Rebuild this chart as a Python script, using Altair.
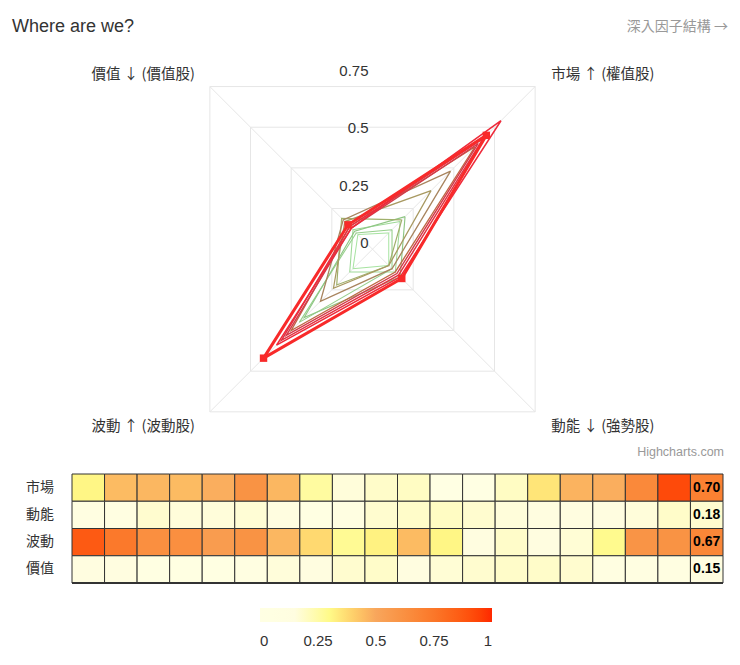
import numpy as np
import pandas as pd
import altair as alt

# factors, clockwise from the top-right spoke
factors = ["市場", "動能", "波動", "價值"]
axis_titles = ["市場 ↑ (權值股)", "動能 ↓ (強勢股)", "波動 ↑ (波動股)", "價值 ↓ (價值股)"]
axis_angles = [45, 135, 225, 315]

# heatmap: one column per period, last column is the current reading
periods = list(range(1, 21))
heat_market = [0.31, 0.45, 0.46, 0.45, 0.48, 0.61, 0.46, 0.26, 0.16, 0.19,
               0.20, 0.00, 0.00, 0.20, 0.35, 0.47, 0.48, 0.66, 0.92, 0.70]
heat_momentum = [0.12, 0.11, 0.18, 0.16, 0.16, 0.17, 0.13, 0.04, 0.10, 0.18,
                 0.19, 0.20, 0.18, 0.16, 0.14, 0.15, 0.13, 0.16, 0.19, 0.18]
heat_volatility = [0.87, 0.74, 0.63, 0.63, 0.56, 0.61, 0.46, 0.38, 0.28, 0.32,
                   0.45, 0.31, 0.15, 0.19, 0.15, 0.17, 0.29, 0.60, 0.61, 0.67]
heat_value = [0.14, 0.13, 0.06, 0.07, 0.06, 0.11, 0.16, 0.14, 0.18, 0.19,
              0.15, 0.17, 0.18, 0.19, 0.19, 0.18, 0.12, 0.12, 0.10, 0.15]

# radar: oldest first, the last one is the current reading
radar_market = [0.10, 0.17, 0.12, 0.20, 0.18, 0.36, 0.48, 0.63, 0.65, 0.68, 0.79, 0.70]
radar_momentum = [0.10, 0.14, 0.12, 0.17, 0.10, 0.10, 0.12, 0.14, 0.15, 0.16, 0.17, 0.18]
radar_volatility = [0.12, 0.14, 0.45, 0.42, 0.22, 0.24, 0.32, 0.50, 0.53, 0.56, 0.59, 0.67]
radar_value = [0.09, 0.12, 0.10, 0.11, 0.19, 0.17, 0.18, 0.14, 0.13, 0.14, 0.13, 0.15]

grid_levels = [0.25, 0.5, 0.75, 1.0]
tick_labels = ["0", "0.25", "0.5", "0.75"]
legend_ticks = [0, 0.25, 0.5, 0.75, 1]

FONT = "Liberation Sans, Noto Sans CJK TC, sans-serif"
CJK = "Noto Sans CJK TC, Liberation Sans, sans-serif"
rad = np.deg2rad(axis_angles)

# ---- radar data
radar_vals = [radar_market, radar_momentum, radar_volatility, radar_value]
n_series = len(radar_market)
rows = []
for s in range(n_series):
    for k in range(5):
        j = k % 4
        v = radar_vals[j][s]
        rows.append({"series": s, "order": k, "value": v,
                     "x": v * np.sin(rad[j]), "y": v * np.cos(rad[j])})
radar_df = pd.DataFrame(rows)

grid_rows = []
for lv in grid_levels:
    for k in range(5):
        j = k % 4
        grid_rows.append({"level": lv, "order": k,
                          "x": lv * np.sin(rad[j]), "y": lv * np.cos(rad[j])})
grid_df = pd.DataFrame(grid_rows)

spoke_df = pd.DataFrame({"x0": 0.0, "y0": 0.0, "x": np.sin(rad), "y": np.cos(rad),
                         "title": axis_titles})
ticks_df = pd.DataFrame({"v": [0, 0.25, 0.5, 0.75], "label": tick_labels, "x": 0.0})

xs = alt.Scale(domain=[-1, 1], range=[134.5, 594.5], nice=False, zero=False)
ys = alt.Scale(domain=[-1, 1], range=[471.2, 11.2], nice=False, zero=False)
X = alt.X("x:Q", scale=xs, axis=None)
Y = alt.Y("y:Q", scale=ys, axis=None)

grid = alt.Chart(grid_df).mark_line(color="#e6e6e6", strokeWidth=1).encode(
    x=X, y=Y, detail="level:N", order="order:Q"
)
spokes = alt.Chart(spoke_df).mark_rule(color="#e6e6e6", strokeWidth=1).encode(
    x=alt.X("x0:Q", scale=xs, axis=None), y=alt.Y("y0:Q", scale=ys, axis=None),
    x2="x:Q", y2="y:Q",
)
tick_text = alt.Chart(ticks_df).mark_text(
    align="right", dx=-4, dy=-6, fontSize=15, color="#333", font=FONT
).encode(x=X, y=alt.Y("v:Q", scale=ys, axis=None), text="label:N")

corner_labels = []
for cond, align, dx, dy in [
    ((alt.datum.x > 0) & (alt.datum.y > 0), "left", 16, -12),
    ((alt.datum.x < 0) & (alt.datum.y > 0), "right", -15, -12),
    ((alt.datum.x > 0) & (alt.datum.y < 0), "left", 16, 15),
    ((alt.datum.x < 0) & (alt.datum.y < 0), "right", -15, 15),
]:
    corner_labels.append(
        alt.Chart(spoke_df).transform_filter(cond).mark_text(
            align=align, dx=dx, dy=dy, fontSize=14.5, color="#333", font=CJK
        ).encode(x=X, y=Y, text="title:N")
    )

last = n_series - 1
thin = alt.Chart(radar_df).transform_filter(alt.datum.series < last).mark_line().encode(
    x=X, y=Y, detail="series:N", order="order:Q",
    color=alt.Color("series:Q", legend=None,
                    scale=alt.Scale(domain=[0, 3, 6, 8, 10],
                                    range=["#a6e3a0", "#8fc684", "#a8845e",
                                           "#d43848", "#ee2b3b"])),
    size=alt.Size("series:Q", legend=None, scale=alt.Scale(domain=[0, 10], range=[1, 1.5])),
)
current = alt.Chart(radar_df).transform_filter(alt.datum.series == last)
current_line = current.mark_line(color="#f82a2a", strokeWidth=3).encode(
    x=X, y=Y, order="order:Q"
)
current_pts = current.transform_filter(alt.datum.order < 4).mark_square(
    color="#f82a2a", size=55, opacity=1
).encode(x=X, y=Y)

radar = alt.layer(grid, spokes, tick_text, *corner_labels, thin, current_line, current_pts)

# ---- heatmap
heat_df = pd.DataFrame({
    "period": periods * 4,
    "factor": sum([[f] * len(periods) for f in factors], []),
    "value": heat_market + heat_momentum + heat_volatility + heat_value,
})
HX = alt.X("period:O", axis=None,
           scale=alt.Scale(range=[64, 715], paddingInner=0, paddingOuter=0))
HY = alt.Y("factor:N", axis=None, sort=factors,
           scale=alt.Scale(domain=factors, range=[466, 575], paddingInner=0, paddingOuter=0))

cells = alt.Chart(heat_df).mark_rect(stroke="#333", strokeWidth=1).encode(
    x=HX, y=HY,
    color=alt.Color(
        "value:Q",
        scale=alt.Scale(domain=[0, 0.15, 0.3, 0.5, 1],
                        range=["#ffffff", "#fffde0", "#fffa88", "#f8a65c", "#ff2800"]),
        legend=alt.Legend(
            orient="none", legendX=252, legendY=600, direction="horizontal",
            gradientLength=232, gradientThickness=14, gradientStrokeWidth=0,
            title=None, values=legend_ticks, format=".2~f", labelAlign="center",
            labelFontSize=15, labelColor="#333", labelFont=FONT, labelOffset=12,
        ),
    ),
)
cell_text = alt.Chart(heat_df).transform_filter(alt.datum.period == periods[-1]).mark_text(
    fontSize=14, fontWeight="bold", color="#000", font="Liberation Sans"
).encode(x=HX, y=HY, text=alt.Text("value:Q", format=".2f"))
row_labels = alt.Chart(pd.DataFrame({"factor": factors})).mark_text(
    align="right", fontSize=14, color="#333", font=CJK
).encode(x=alt.value(46), y=HY, text="factor:N")
bottom_edge = alt.Chart(pd.DataFrame({"factor": [factors[-1]]})).mark_rule(
    color="#333", strokeWidth=2
).encode(x=alt.value(64), x2=alt.value(715), y=alt.Y("factor:N", axis=None, sort=factors,
         scale=alt.Scale(domain=factors, range=[466, 575], paddingInner=0, paddingOuter=0),
         bandPosition=1))

heat = alt.layer(cells, cell_text, row_labels, bottom_edge)

# ---- header texts
blank = alt.Chart(pd.DataFrame({"t": [0]}))
title = blank.mark_text(align="left", fontSize=18, color="#333", font=FONT).encode(
    x=alt.value(4), y=alt.value(19), text=alt.value("Where are we?")
)
link = blank.mark_text(align="right", fontSize=14, color="#999", font=CJK).encode(
    x=alt.value(720), y=alt.value(19), text=alt.value("深入因子結構 →")
)
credit = blank.mark_text(align="right", fontSize=12.5, color="#999", font=FONT).encode(
    x=alt.value(716), y=alt.value(444), text=alt.value("Highcharts.com")
)

chart = alt.layer(radar, heat, title, link, credit).resolve_scale(
    x="independent", y="independent", color="independent", size="independent"
).properties(
    width=724, height=649, padding=0,
    autosize=alt.AutoSizeParams(type="none"),
).configure_view(stroke=None)

chart.save("out.html", embed_options={"renderer": "svg", "actions": False})
